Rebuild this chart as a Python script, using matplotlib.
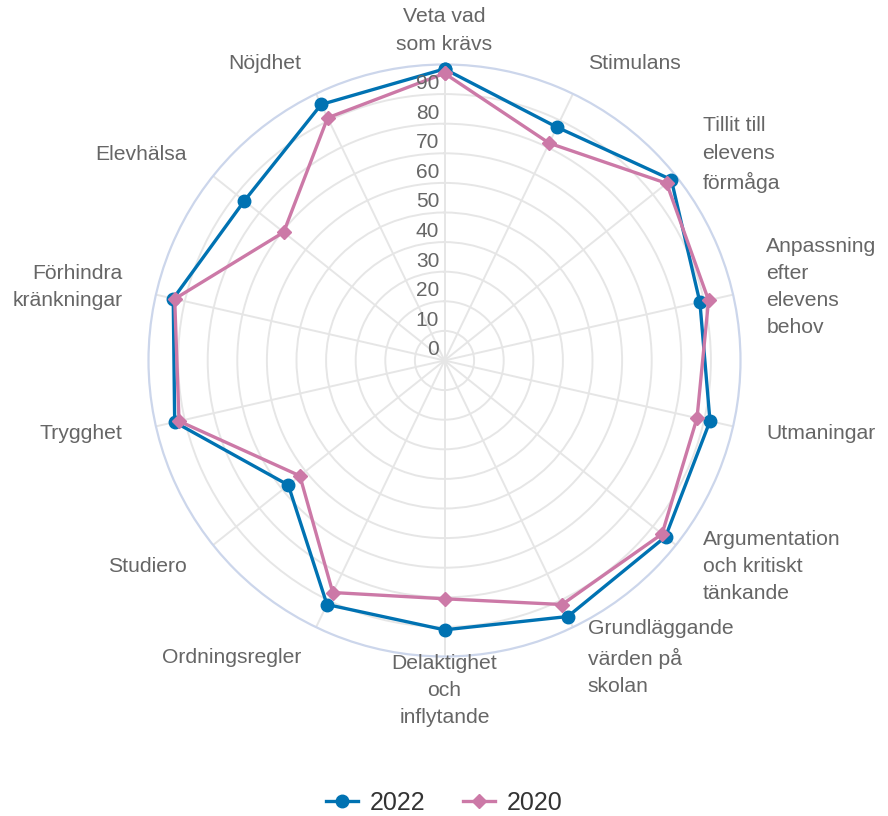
import numpy as np
import matplotlib
matplotlib.use("Agg")
import matplotlib.pyplot as plt
from matplotlib.lines import Line2D

plt.rcParams['font.family'] = ['Liberation Sans', 'DejaVu Sans']

categories = ["Veta vad\nsom krävs", "Stimulans", "Tillit till\nelevens\nförmåga",
              "Anpassning\nefter\nelevens\nbehov", "Utmaningar",
              "Argumentation\noch kritiskt\ntänkande", "Grundläggande\nvärden på\nskolan",
              "Delaktighet\noch\ninflytande", "Ordningsregler", "Studiero", "Trygghet",
              "Förhindra\nkränkningar", "Elevhälsa", "Nöjdhet"]
values_2022 = [98.5, 87.5, 98, 88.5, 92, 95.5, 96, 91, 91.5, 67.5, 93.5, 94, 86.5, 96]
values_2020 = [97, 81.5, 96, 91.5, 87.5, 94, 91.5, 80.5, 87, 62.5, 92, 93.5, 69.5, 91]
series_names = ["2022", "2020"]
radial_ticks = [0, 10, 20, 30, 40, 50, 60, 70, 80, 90]

c2022 = "#0072B2"
c2020 = "#CC79A7"
label_col = "#666666"
grid_col = "#e6e6e6"

W, H = 888, 816
fig = plt.figure(figsize=(W / 100, H / 100), dpi=100)
cx, cy, R = 444.5, 360.5, 296
ax = fig.add_axes([(cx - R) / W, (H - cy - R) / H, 2 * R / W, 2 * R / H], projection='polar')
ax.set_theta_zero_location('N')
ax.set_theta_direction(-1)
ax.set_ylim(0, 100)

n = len(categories)
angles = np.arange(n) * 2 * np.pi / n

ax.set_xticks(angles)
ax.set_xticklabels([])
ax.set_yticks([10, 20, 30, 40, 50, 60, 70, 80, 90])
ax.set_yticklabels([])
ax.tick_params(length=0)
ax.grid(True, color=grid_col, linewidth=1.4)
ax.spines['polar'].set_color("#ccd6eb")
ax.spines['polar'].set_linewidth(1.6)
ax.set_facecolor('white')

def closed(v):
    return np.concatenate([v, v[:1]])

a_c = closed(angles)
ax.plot(a_c, closed(np.array(values_2022)), color=c2022, linewidth=2.4,
        marker='o', markersize=9, zorder=5, clip_on=False)
ax.plot(a_c, closed(np.array(values_2020)), color=c2020, linewidth=2.4,
        marker='D', markersize=7, zorder=6, clip_on=False)

# radial labels
for v in radial_ticks:
    ax.annotate(str(v), xy=(0, v), xytext=(-3.8, 7.6), textcoords='offset points',
                ha='right', va='center', fontsize=15, color=label_col, zorder=7)

# category labels
r_lab = 100 * 330 / 296
for ang, lab in zip(angles, categories):
    s = np.sin(ang)
    if abs(s) < 0.05:
        ha = 'center'
    elif s > 0:
        ha = 'left'
    else:
        ha = 'right'
    ax.text(ang, r_lab, lab, ha=ha, va='center', multialignment=ha,
            fontsize=15.2, color=label_col, linespacing=1.55, clip_on=False)

handles = [Line2D([], [], color=c2022, linewidth=2.4, marker='o', markersize=9),
           Line2D([], [], color=c2020, linewidth=2.4, marker='D', markersize=7)]
fig.legend(handles, series_names, loc='center', bbox_to_anchor=(0.5, 0.016), ncol=2,
           frameon=False, fontsize=18, handlelength=1.3, handletextpad=0.45,
           columnspacing=1.5, labelcolor="#333333")

fig.savefig("out.png", dpi=100, facecolor='white')
